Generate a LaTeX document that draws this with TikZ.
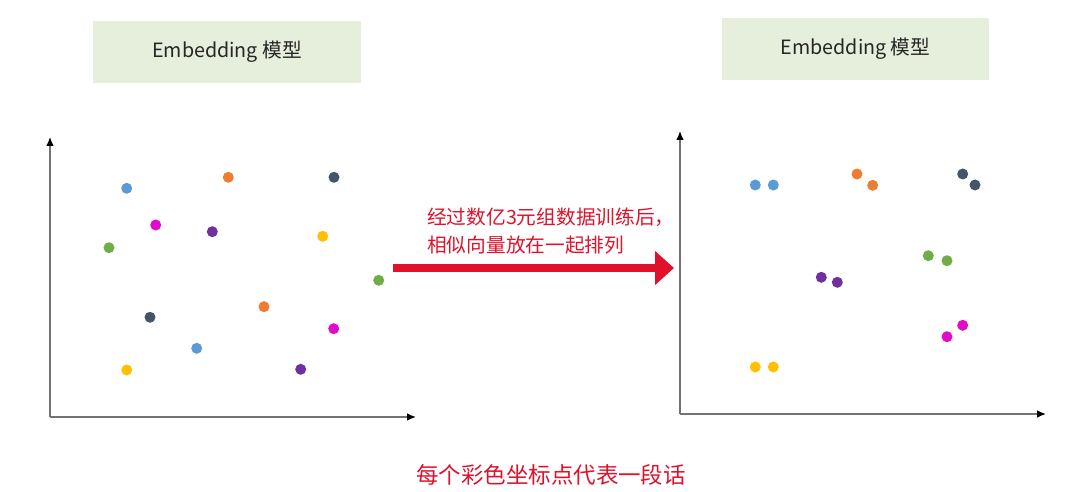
\documentclass[tikz,border=0pt]{standalone}
\usepackage{fontspec}
\setmainfont{Noto Sans CJK SC}
\usetikzlibrary{arrows.meta,positioning,calc}

\definecolor{boxgreen}{HTML}{E6EFDB}
\definecolor{hintred}{HTML}{E0122B}
\definecolor{ptblue}{HTML}{5B9BD5}
\definecolor{ptorange}{HTML}{ED7D31}
\definecolor{ptdark}{HTML}{44546A}
\definecolor{ptmagenta}{HTML}{E10CC9}
\definecolor{ptpurple}{HTML}{7030A0}
\definecolor{ptyellow}{HTML}{FFC000}
\definecolor{ptgreen}{HTML}{70AD47}

\begin{document}
\begin{tikzpicture}[
  x=0.025cm, y=-0.025cm,
  modelbox/.style={draw=none,fill=boxgreen,minimum width=6.675cm,minimum height=1.55cm,font=\fontsize{14}{17}\selectfont,text=black!85},
  pt/.style={circle,inner sep=0pt,minimum size=0.275cm,fill=#1},
  axis/.style={-{Latex[length=2.2mm,width=1.9mm,color=black]},black!55,line width=1pt},
  bigarrow/.style={-{Triangle[length=0.475cm,width=0.825cm]},hintred,line width=0.2125cm},
  redtext/.style={text=hintred,align=left,inner sep=0pt}
]
  \useasboundingbox (0,0) rectangle (1080,492);

  % models
  \node (modelL) [modelbox] at (227,52) {Embedding 模型};
  \node (modelR) [modelbox] at (855.5,49) {Embedding 模型};

  % axes
  \coordinate (originL) at (50,417);
  \coordinate (yendL) at (50,137);
  \coordinate (xendL) at (416,417);
  \coordinate (originR) at (680,414);
  \coordinate (yendR) at (680,131);
  \coordinate (xendR) at (1046,414);
  \draw[axis] (originL) -- (yendL);
  \draw[axis] (originL) -- (xendL);
  \draw[axis] (originR) -- (yendR);
  \draw[axis] (originR) -- (xendR);

  % scattered points before training
  \foreach \name/\px/\py/\col in {
      bL1/126.7/188.3/ptblue, oL1/228.3/177.3/ptorange, dL1/334/177.3/ptdark,
      mL1/155.7/225/ptmagenta, uL1/212.3/231.7/ptpurple, yL1/322.7/236.3/ptyellow,
      gL1/109/247.7/ptgreen, gL2/378.7/280.3/ptgreen, oL2/264/306.7/ptorange,
      dL2/150/317.3/ptdark, mL2/333.7/328.7/ptmagenta, bL2/196.7/348.3/ptblue,
      yL2/126.7/370/ptyellow, uL2/300.7/369.3/ptpurple}
    \node (\name) [pt=\col] at (\px,\py) {};

  % grouped points after training
  \foreach \name/\px/\py/\col in {
      bR1/755.3/185/ptblue, bR2/773.3/185/ptblue,
      oR1/857/174/ptorange, oR2/872.7/185.3/ptorange,
      dR1/962.7/174/ptdark, dR2/975/185/ptdark,
      gR1/928.3/255.7/ptgreen, gR2/947/260.7/ptgreen,
      uR1/821.3/277.3/ptpurple, uR2/837.3/282.3/ptpurple,
      mR1/962.7/325.3/ptmagenta, mR2/947/336.7/ptmagenta,
      yR1/755.3/367/ptyellow, yR2/773.3/367/ptyellow}
    \node (\name) [pt=\col] at (\px,\py) {};

  % training arrow
  \coordinate (trainfrom) at (393,268);
  \coordinate (trainto) at (674,268);
  \draw[bigarrow] (trainfrom) -- (trainto);
  \node (trainnote) [redtext,anchor=west,font=\fontsize{14}{19.9}\selectfont] at (427,231)
    {经过数亿3元组数据训练后，\\相似向量放在一起排列};

  \node (caption) [redtext,font=\fontsize{16}{19}\selectfont] at (551,475) {每个彩色坐标点代表一段话};
\end{tikzpicture}
\end{document}
